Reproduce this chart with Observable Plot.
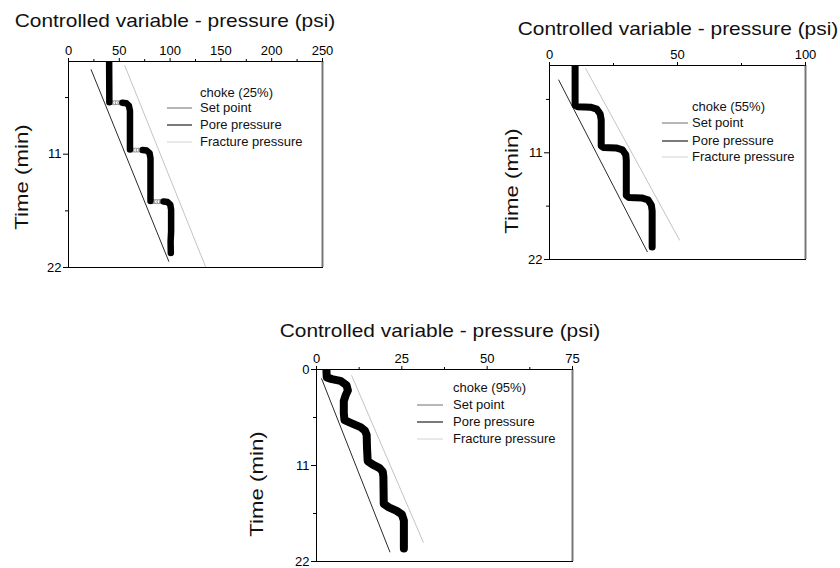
<!DOCTYPE html>
<html><head><meta charset="utf-8">
<script src="https://cdn.jsdelivr.net/npm/d3@7"></script>
<script src="https://cdn.jsdelivr.net/npm/@observablehq/plot@0.6"></script>
<style>
body{margin:0;background:#fff;font-family:"Liberation Sans",Arial,sans-serif;color:#000;}
#page{position:relative;width:840px;height:568px;overflow:hidden;background:#fff;}
.panel{position:absolute;}
.panel svg{background:transparent;overflow:visible;}
.title,.ylab{position:absolute;white-space:nowrap;font-size:19px;font-weight:normal;text-align:center;height:24px;line-height:24px;width:400px;color:#111;}
.leg{position:absolute;font-size:13px;white-space:nowrap;line-height:16px;height:16px;color:#111;}
</style></head>
<body><div id="page"></div>
<script>
// ---- Shared text ----
const titleText = "Controlled variable - pressure (psi)";
const yLabelText = "Time (min)";
const legendNames = ["Set point", "Pore pressure", "Fracture pressure"];

// ---- Panel 1: choke (25%) ----
const choke25Label = "choke (25%)";
const choke25XTicks = [0, 50, 100, 150, 200, 250];
const choke25XMinor = [25, 75, 125, 175, 225];
const choke25YTicks = [11, 22];
const choke25YMinor = [5.5, 16.5];
const choke25Seg = [0,0, 1,1,1,1,1, 2,2,2,2,2, 3,3,3,3,3,3,3];
const choke25Psi = [40,40.2, 53,57,59.5,60.5,60.5, 73,77,79.8,80.7,80.7, 93.5,97.5,100.2,101,101,100.5,100.7];
const choke25Time = [2,5.95, 6.0,6.05,6.3,6.8,10.55, 10.6,10.65,10.9,11.4,15.55, 15.6,15.65,15.9,16.4,18.5,19.5,20.6];
const choke25DotPsi = [43,45.5,48,50.5, 63.5,66,68.5,71, 84,86.5,89,91.5];
const choke25DotTime = [6,6,6,6, 10.6,10.6,10.6,10.6, 15.6,15.6,15.6,15.6];
const choke25PorePsi = [22.3, 98.7];
const choke25PoreTime = [2.8, 21.4];
const choke25FracPsi = [55.4, 134.8];
const choke25FracTime = [2.4, 21.9];

// ---- Panel 2: choke (55%) ----
const choke55Label = "choke (55%)";
const choke55XTicks = [0, 50, 100];
const choke55XMinor = [25, 75];
const choke55YTicks = [11, 22];
const choke55YMinor = [5.5, 16.5];
const choke55Psi = [10,10,11,16,18.5,19.8,20.2,20.2,21,26,28.5,29.8,30,30,31,36,38.5,39.8,40.1,40.1];
const choke55Time = [2,6.1,6.25,6.3,6.5,7.0,7.6,10.3,10.45,10.5,10.7,11.2,11.8,15.4,15.6,15.65,15.85,16.4,17,20.7];
const choke55PorePsi = [3.6, 38.2];
const choke55PoreTime = [3.5, 21.2];
const choke55FracPsi = [14.1, 50.8];
const choke55FracTime = [2.3, 20.0];

// ---- Panel 3: choke (95%) ----
const choke95Label = "choke (95%)";
const choke95XTicks = [0, 25, 50, 75];
const choke95XMinor = [12.5, 37.5, 62.5];
const choke95YTicks = [0, 11, 22];
const choke95YMinor = [5.5, 16.5];
const choke95Psi = [2.9,3.0,4.5,7.0,8.8,9.2,8.5,8.0,8.0,8.2,10.5,12.9,14.2,14.7,14.8,15.0,16.5,18.5,19.4,19.6,19.7,21.2,23.5,25,25.6,25.6];
const choke95Time = [0,0.9,1.1,1.3,1.8,2.4,3.0,3.6,5.0,5.8,6.2,6.6,7.0,7.5,9.0,10.5,10.9,11.3,11.7,12.3,15.4,15.8,16.2,16.6,17.3,20.5];
const choke95PorePsi = [1.5, 21.5];
const choke95PoreTime = [1.06, 20.9];
const choke95FracPsi = [10.3, 31.3];
const choke95FracTime = [0.7, 19.8];

const page = document.getElementById("page");
const zip = (xs, ys, extra) => xs.map((x, i) => ({psi: x, t: ys[i], seg: extra ? extra[i] : 0}));

function addDiv(cls, text, css) {
  const d = document.createElement("div");
  d.className = cls; d.textContent = text;
  Object.assign(d.style, css);
  page.appendChild(d);
  return d;
}

function makePanel(o) {
  const [fx0, fy0, fx1, fy1] = o.frame;
  const ml = 40, mt = 33, mr = 14, mb = 8;
  const width = fx1 - fx0 + ml + mr, height = fy1 - fy0 + mt + mb;
  const press = zip(o.psi, o.time, o.seg);
  const pore = zip(o.porePsi, o.poreTime);
  const frac = zip(o.fracPsi, o.fracTime);
  const dots = o.dotPsi ? zip(o.dotPsi, o.dotTime) : [];
  const fmt = d => o.yTicks.includes(d) ? String(d) : "";
  const fs = 13;
  const chart = Plot.plot({
    width, height, marginLeft: ml, marginTop: mt, marginRight: mr, marginBottom: mb,
    style: {fontFamily: "Liberation Sans, Arial, sans-serif", fontSize: "13px", background: "transparent", color: "#000"},
    x: {domain: o.xDomain},
    y: {domain: o.yDomain, reverse: true},
    marks: [
      Plot.line(frac, {x: "psi", y: "t", stroke: "#c4c4c4", strokeWidth: 1}),
      Plot.line(pore, {x: "psi", y: "t", stroke: "#2a2a2a", strokeWidth: 1}),
      Plot.dot(dots, {x: "psi", y: "t", r: 2, stroke: "#8a8a8a", fill: "#fff", strokeWidth: 1}),
      Plot.line(press, {x: "psi", y: "t", z: "seg", stroke: "#000", strokeWidth: o.thick, strokeLinejoin: "round", strokeLinecap: "round", clip: true}),
      Plot.frame({stroke: "#000", strokeWidth: 1}),
      Plot.ruleX([o.xDomain[1]], {stroke: "#777", strokeWidth: 2}),
      Plot.axisX({anchor: "top", ticks: o.xTicks, tickSize: 4, tickPadding: 3, fontSize: fs, fill: "#000", label: null}),
      Plot.axisX({anchor: "top", ticks: o.xMinor, tickSize: 3, tickFormat: () => "", label: null}),
      Plot.axisY({anchor: "left", ticks: o.yTicks, tickSize: 5, tickPadding: 2, fontSize: fs, fill: "#000", tickFormat: fmt, label: null}),
      Plot.axisY({anchor: "left", ticks: o.yMinor, tickSize: 3, tickFormat: () => "", label: null})
    ]
  });
  const wrap = document.createElement("div");
  wrap.className = "panel";
  wrap.style.left = (fx0 - ml) + "px";
  wrap.style.top = (fy0 - mt) + "px";
  wrap.appendChild(chart);
  page.appendChild(wrap);

  // title and y label
  addDiv("title", titleText, {left: (o.titleC[0] - 200) + "px", top: (o.titleC[1] - 12) + "px", transform: "scaleX(1.1)"});
  addDiv("ylab", yLabelText, {left: (o.yLabC[0] - 200) + "px", top: (o.yLabC[1] - 12) + "px", transform: "rotate(-90deg) scaleX(1.17)"});

  // legend
  const L = o.legend;
  addDiv("leg", o.label, {left: L.textX + "px", top: (L.ys[0] - 8) + "px"});
  const styles = [{c: "#6f6f6f", w: 1}, {c: "#333", w: 1.3}, {c: "#d2d2d2", w: 1}];
  legendNames.forEach((name, i) => {
    const y = L.ys[i + 1];
    addDiv("leg", name, {left: L.textX + "px", top: (y - 8) + "px"});
    const s = document.createElementNS("http://www.w3.org/2000/svg", "svg");
    s.setAttribute("width", L.sw[1] - L.sw[0]); s.setAttribute("height", 4);
    s.style.position = "absolute"; s.style.left = L.sw[0] + "px"; s.style.top = (y - 2) + "px";
    const ln = document.createElementNS("http://www.w3.org/2000/svg", "line");
    ln.setAttribute("x1", 0); ln.setAttribute("x2", L.sw[1] - L.sw[0]);
    ln.setAttribute("y1", 2); ln.setAttribute("y2", 2);
    ln.setAttribute("stroke", styles[i].c); ln.setAttribute("stroke-width", styles[i].w);
    s.appendChild(ln); page.appendChild(s);
  });
}

makePanel({
  frame: [68, 61, 322, 267], xDomain: [0, 250], yDomain: [2, 22],
  xTicks: choke25XTicks, xMinor: choke25XMinor, yTicks: choke25YTicks, yMinor: choke25YMinor,
  psi: choke25Psi, time: choke25Time, seg: choke25Seg, dotPsi: choke25DotPsi, dotTime: choke25DotTime,
  porePsi: choke25PorePsi, poreTime: choke25PoreTime, fracPsi: choke25FracPsi, fracTime: choke25FracTime,
  thick: 6.5, label: choke25Label, titleC: [175, 21], yLabC: [22, 177],
  legend: {textX: 200, ys: [93, 108, 125, 142], sw: [167, 192]}
});
makePanel({
  frame: [549, 65, 805, 259], xDomain: [0, 100], yDomain: [2, 22],
  xTicks: choke55XTicks, xMinor: choke55XMinor, yTicks: choke55YTicks, yMinor: choke55YMinor,
  psi: choke55Psi, time: choke55Time,
  porePsi: choke55PorePsi, poreTime: choke55PoreTime, fracPsi: choke55FracPsi, fracTime: choke55FracTime,
  thick: 7, label: choke55Label, titleC: [678, 29], yLabC: [512, 181],
  legend: {textX: 692, ys: [107, 123, 141, 157], sw: [662, 688]}
});
makePanel({
  frame: [316, 369, 572, 561], xDomain: [0, 75], yDomain: [0, 22],
  xTicks: choke95XTicks, xMinor: choke95XMinor, yTicks: choke95YTicks, yMinor: choke95YMinor,
  psi: choke95Psi, time: choke95Time,
  porePsi: choke95PorePsi, poreTime: choke95PoreTime, fracPsi: choke95FracPsi, fracTime: choke95FracTime,
  thick: 8, label: choke95Label, titleC: [440, 331], yLabC: [257, 484],
  legend: {textX: 453, ys: [388, 405, 422, 439], sw: [417, 443]}
});
</script>
</body></html>
